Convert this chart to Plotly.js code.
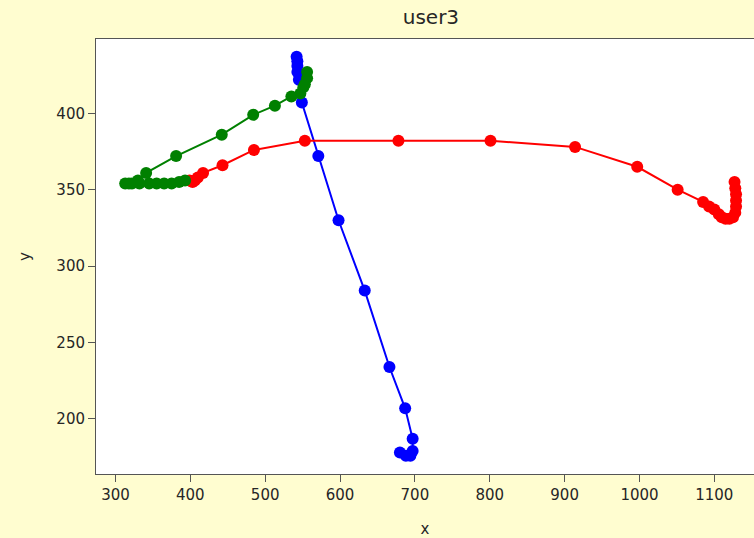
<!DOCTYPE html>
<html>
<head>
<meta charset="utf-8">
<script src="https://cdn.plot.ly/plotly-3.0.1.min.js"></script>
<style>html,body{margin:0;padding:0;background:#fffdd0;}#chart{width:754px;height:538px;}</style>
</head>
<body>
<div id="chart"></div>
<script>
// Blue trajectory
const blueX = [680, 688, 694, 697, 697, 687, 666, 633, 598, 571, 549, 545, 543, 543, 543, 542];
const blueY = [178, 176, 176, 179, 187, 207, 234, 284, 330, 372, 407, 422, 427, 431, 434, 437];
// Red trajectory
const redX = [399, 403, 406, 410, 417, 443, 485, 553, 678, 801, 914, 997, 1051, 1085, 1093, 1100, 1106, 1110, 1115, 1120, 1125, 1128, 1129, 1129, 1129, 1128, 1127];
const redY = [356, 355, 356, 358, 361, 366, 376, 382, 382, 382, 378, 365, 350, 342, 339, 337, 334, 332, 331, 331, 332, 335, 339, 343, 347, 351, 355];
// Green trajectory
const greenX = [556, 556, 553, 551, 547, 535, 513, 484, 442, 381, 341, 330, 318, 313, 322, 332, 345, 355, 365, 375, 385, 393];
const greenY = [427, 423, 419, 417, 413, 411, 405, 399, 386, 372, 361, 356, 354, 354, 354, 354, 354, 354, 354, 354, 355, 356];
// Axis ticks
const xTicks = [300, 400, 500, 600, 700, 800, 900, 1000, 1100];
const yTicks = [200, 250, 300, 350, 400];

function tr(x, y, c) {
  return {x: x, y: y, type: 'scatter', mode: 'lines+markers',
    line: {color: c, width: 2}, marker: {color: c, size: 12}, hoverinfo: 'skip'};
}
const data = [tr(blueX, blueY, '#0000ff'), tr(redX, redY, '#ff0000'), tr(greenX, greenY, '#008000')];
const font = {family: 'DejaVu Sans, sans-serif', size: 15, color: '#262626'};
const layout = {
  width: 754, height: 538,
  paper_bgcolor: '#fffdd0', plot_bgcolor: '#ffffff',
  margin: {l: 96, r: 0, t: 39, b: 64, pad: 0},
  showlegend: false,
  font: font,
  title: {text: 'user3', x: 0.509, xref: 'paper', xanchor: 'center', y: 1, yref: 'container', yanchor: 'top', pad: {t: 10},
    font: {family: 'DejaVu Sans, sans-serif', size: 20, color: '#262626'}},
  xaxis: {range: [274, 1153], tickvals: xTicks, ticks: 'outside', ticklen: 7, tickcolor: '#555',
    showline: true, linecolor: '#555', linewidth: 1, mirror: true, showgrid: false, zeroline: false,
    tickfont: font, title: {text: 'x', font: font, standoff: 20}},
  yaxis: {range: [164, 448.6], tickvals: yTicks, ticks: 'outside', ticklen: 7, tickcolor: '#555',
    showline: true, linecolor: '#555', linewidth: 1, mirror: false, showgrid: false, zeroline: false,
    tickfont: font, title: {text: 'y', font: font, standoff: 22}}
};
Plotly.newPlot('chart', data, layout, {displayModeBar: false, staticPlot: true});
</script>
</body>
</html>
